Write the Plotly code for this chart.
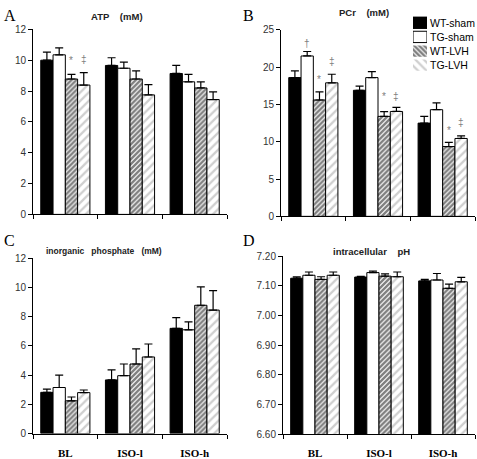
import plotly.graph_objects as go

categories = ["BL", "ISO-l", "ISO-h"]
groups = ["WT-sham", "TG-sham", "WT-LVH", "TG-LVH"]

atp = {"WT-sham": [10.0, 9.66, 9.14], "TG-sham": [10.35, 9.48, 8.6],
       "WT-LVH": [8.78, 8.78, 8.2], "TG-LVH": [8.39, 7.75, 7.45]}
atp_err = {"WT-sham": [0.53, 0.5, 0.52], "TG-sham": [0.45, 0.4, 0.48],
           "WT-LVH": [0.3, 0.53, 0.4], "TG-LVH": [0.8, 0.67, 0.5]}

pcr = {"WT-sham": [18.6, 16.9, 12.5], "TG-sham": [21.5, 18.6, 14.3],
       "WT-LVH": [15.6, 13.4, 9.36], "TG-LVH": [17.9, 14.06, 10.44]}
pcr_err = {"WT-sham": [0.9, 0.55, 0.9], "TG-sham": [0.6, 0.8, 0.9],
           "WT-LVH": [1.1, 0.65, 0.55], "TG-LVH": [1.15, 0.55, 0.35]}

pi = {"WT-sham": [2.82, 3.67, 7.2], "TG-sham": [3.15, 3.96, 7.1],
      "WT-LVH": [2.24, 4.76, 8.78], "TG-LVH": [2.8, 5.24, 8.45]}
pi_err = {"WT-sham": [0.22, 0.69, 0.73], "TG-sham": [0.85, 0.8, 0.54],
          "WT-LVH": [0.26, 1.04, 1.26], "TG-LVH": [0.18, 0.89, 1.33]}

ph = {"WT-sham": [7.126, 7.13, 7.117], "TG-sham": [7.136, 7.145, 7.12],
      "WT-LVH": [7.122, 7.133, 7.092], "TG-LVH": [7.136, 7.131, 7.114]}
ph_err = {"WT-sham": [0.005, 0.002, 0.005], "TG-sham": [0.011, 0.005, 0.022],
          "WT-LVH": [0.009, 0.008, 0.014], "TG-LVH": [0.011, 0.016, 0.015]}

# significance markers: (panel, category index, group index, symbol, y)
markers = [
    ("A", 0, 2, "*", 9.98), ("A", 0, 3, "‡", 10.05),
    ("B", 0, 1, "†", 23.2), ("B", 0, 2, "*", 18.4), ("B", 0, 3, "‡", 20.8),
    ("B", 1, 2, "*", 16.1), ("B", 1, 3, "‡", 16.1),
    ("B", 2, 2, "*", 11.5), ("B", 2, 3, "‡", 12.6),
]

def style(g, legend=False):
    if g == "WT-sham":
        return dict(color="black", line=dict(color="black", width=1))
    if g == "TG-sham":
        return dict(color="white", line=dict(color="black", width=1))
    if g == "WT-LVH":
        return dict(color="white",
                    pattern=dict(shape="\\" if legend else "/", fgcolor="#000",
                                 bgcolor="white", size=3.5, solidity=0.68),
                    line=dict(color="black", width=0 if legend else 1))
    return dict(color="white",
                pattern=dict(shape="\\" if legend else "/", fgcolor="#a0a0a0",
                             bgcolor="white", size=6, solidity=0.38),
                line=dict(color="black", width=0 if legend else 1))

SP = "\u00a0"
panels = [
    ("A", atp, atp_err, "x", "y", [0, 12], 2, "ATP" + SP * 4 + "(mM)"),
    ("B", pcr, pcr_err, "x2", "y2", [0, 25], 5, "PCr" + SP * 4 + "(mM)"),
    ("C", pi, pi_err, "x3", "y3", [0, 12], 2,
     "inorganic" + SP * 3 + "phosphate" + SP * 3 + "(mM)"),
    ("D", ph, ph_err, "x4", "y4", [6.6, 7.2], 0.1, "intracellular" + SP * 4 + "pH"),
]

fig = go.Figure()
for pname, data, err, xa, ya, yr, dt, title in panels:
    for g in groups:
        fig.add_trace(go.Bar(
            x=categories, y=data[g], name=g, xaxis=xa, yaxis=ya,
            marker=style(g),
            error_y=dict(type="data", symmetric=False, array=err[g],
                         arrayminus=[0] * len(categories), color="black",
                         thickness=1.2, width=4),
            showlegend=False, legendgroup=g,
        ))

# legend key swatches (one unit-length horizontal bar per group)
for g in groups:
    fig.add_trace(go.Bar(
        y=[g], x=[1], orientation="h", xaxis="x5", yaxis="y5",
        marker=style(g, legend=True), showlegend=False, hoverinfo="skip",
        width=0.8,
    ))

W, H = 477, 459
def px(x): return x / W
def py(y): return 1 - y / H

domains = {
    "A": ([px(33), px(227)], [py(214), py(24)]),
    "B": ([px(281), px(475)], [py(216), py(24.5)]),
    "C": ([px(33), px(227)], [py(439), py(259)]),
    "D": ([px(283), px(475)], [py(439.7), py(257)]),
}

axis_font = dict(family="Arial, Liberation Sans, sans-serif", size=10, color="#333")
layout = dict(
    width=W, height=H, margin=dict(l=0, r=0, t=0, b=0),
    paper_bgcolor="white", plot_bgcolor="white",
    barmode="group", bargap=0.24, bargroupgap=0,
    showlegend=False,
)
for i, (pname, data, err, xa, ya, yr, dt, title) in enumerate(panels):
    suf = "" if i == 0 else str(i + 1)
    xd, yd = domains[pname]
    show_lbl = pname in ("C", "D")
    layout["xaxis" + suf] = dict(
        domain=xd, anchor="y" + suf, type="category",
        showline=True, linecolor="black", linewidth=1,
        ticks="outside", tickson="boundaries", ticklen=4, tickcolor="black",
        showgrid=False, showticklabels=show_lbl, ticklabelstandoff=9,
        tickfont=dict(family="Liberation Serif, Times New Roman, serif", size=11,
                      color="black", weight="bold"),
    )
    fmt = ".2f" if pname == "D" else "d"
    layout["yaxis" + suf] = dict(
        domain=yd, anchor="x" + suf, range=yr, dtick=dt, tick0=yr[0],
        showline=True, linecolor="black", linewidth=1,
        ticks="outside", ticklen=4, tickcolor="black", showgrid=False,
        zeroline=False, tickformat=fmt, tickfont=axis_font,
    )
# legend key axes
layout["xaxis5"] = dict(domain=[px(413), px(427)], anchor="y5", range=[0, 1],
                        visible=False, fixedrange=True)
layout["yaxis5"] = dict(domain=[py(69), py(9)], anchor="x5", type="category",
                        categoryorder="array", categoryarray=groups[::-1],
                        visible=False, fixedrange=True)
fig.update_layout(**layout)

# legend labels
for g in groups:
    fig.add_annotation(x=px(428), y=g, xref="paper", yref="y5", text=g,
                       showarrow=False, xanchor="left", yanchor="middle",
                       font=dict(family="Arial, Liberation Sans, sans-serif", size=10.5, color="black"))

# panel titles
title_pos = {"A": (117, 11, 9.5), "B": (364, 7, 9.5), "C": (104, 252, 8.5), "D": (371, 252, 9.5)}
for pname, data, err, xa, ya, yr, dt, title in panels:
    tx, ty, fs = title_pos[pname]
    fig.add_annotation(x=px(tx), y=py(ty), xref="paper", yref="paper",
                       text="<b>" + title + "</b>", showarrow=False,
                       font=dict(family="Arial, Liberation Sans, sans-serif", size=fs, color="#222"),
                       xanchor="center", yanchor="middle")

# panel letters
letter_pos = {"A": (2, 10), "B": (241, 10), "C": (2, 241), "D": (241, 241)}
for k, (lx, ly) in letter_pos.items():
    fig.add_annotation(x=px(lx), y=py(ly), xref="paper", yref="paper", text=k,
                       showarrow=False, xanchor="left", yanchor="middle",
                       font=dict(family="Liberation Serif, Times New Roman, serif", size=16, color="black"))

# significance markers
bw = (1 - 0.24) / 4
axmap = {"A": ("x", "y"), "B": ("x2", "y2")}
for pname, ci, gi, sym, yv in markers:
    xr, yr_ = axmap[pname]
    fig.add_annotation(x=ci + (gi - 1.5) * bw, y=yv, xref=xr, yref=yr_, text=sym,
                       showarrow=False, xanchor="center", yanchor="middle",
                       font=dict(family="Arial, Liberation Sans, sans-serif", size=10, color="#808080"))

fig.write_html("out.html", config={"displayModeBar": False},
               post_script="document.body.style.margin='0';document.body.style.overflow='hidden';")
